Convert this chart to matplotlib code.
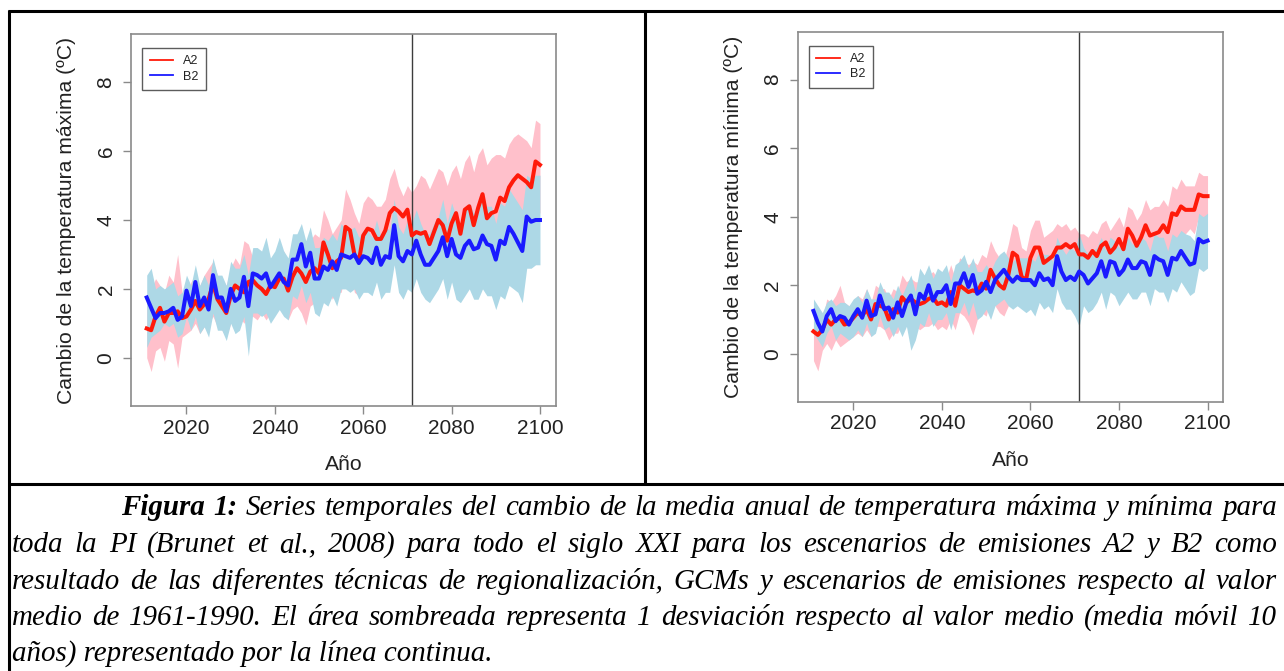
import numpy as np
import matplotlib
matplotlib.use("Agg")
import matplotlib.pyplot as plt
from matplotlib.lines import Line2D

plt.rcParams['font.family'] = ['Liberation Sans', 'DejaVu Sans']

years = np.arange(2011, 2101)

# --- temperatura maxima ---
tmax_a2 = [0.85, 0.80, 1.20, 1.45, 1.05, 1.30, 1.30, 1.35, 1.15, 1.20,
           1.40, 1.65, 1.40, 1.55, 1.70, 2.15, 1.70, 1.50, 1.30, 1.80,
           2.10, 2.00, 1.90, 2.20, 2.25, 2.10, 2.00, 1.85, 2.10, 2.05,
           2.30, 2.30, 1.95, 2.35, 2.60, 2.45, 2.20, 2.50, 2.60, 2.45,
           3.35, 3.00, 2.60, 2.80, 2.90, 3.80, 3.70, 3.00, 2.80, 3.55,
           3.75, 3.70, 3.45, 3.45, 3.70, 4.20, 4.35, 4.25, 4.10, 4.30,
           3.55, 3.65, 3.60, 3.65, 3.30, 3.65, 4.00, 3.85, 3.40, 3.90,
           4.20, 3.60, 4.30, 4.40, 3.85, 4.35, 4.75, 4.05, 4.20, 4.25,
           4.65, 4.55, 4.95, 5.15, 5.30, 5.20, 5.10, 4.95, 5.70, 5.60]
tmax_a2_lo = [0.00, -0.40, 0.20, 0.30, -0.10, 0.50, 0.40, -0.30, 0.60, 0.70,
              0.80, 1.00, 0.70, 0.90, 1.00, 1.20, 0.90, 0.80, 0.60, 1.00,
              1.30, 1.20, 1.00, 1.30, 1.20, 1.10, 1.30, 1.10, 1.30, 1.30,
              1.50, 1.40, 1.10, 1.40, 1.50, 1.30, 0.95, 1.50, 1.60, 1.50,
              2.20, 2.00, 1.70, 1.90, 1.90, 2.50, 2.50, 1.90, 1.80, 2.40,
              2.60, 2.50, 2.30, 2.40, 2.60, 3.00, 3.10, 3.10, 2.90, 3.10,
              2.30, 2.40, 2.20, 2.30, 1.90, 2.30, 2.70, 2.50, 2.10, 2.60,
              2.80, 2.20, 2.90, 3.00, 2.50, 2.90, 3.40, 2.70, 2.80, 2.80,
              3.20, 3.10, 3.50, 3.70, 3.90, 3.80, 3.70, 3.60, 4.30, 4.20]
tmax_a2_hi = [1.50, 2.00, 2.30, 2.10, 1.90, 2.40, 2.20, 3.00, 1.90, 1.80,
              2.20, 2.40, 2.10, 2.40, 2.60, 2.80, 2.40, 2.30, 2.10, 2.60,
              2.90, 2.70, 3.40, 3.30, 2.90, 3.00, 2.80, 2.60, 2.90, 2.80,
              3.00, 3.10, 2.80, 3.20, 3.50, 3.40, 3.10, 3.40, 3.60, 3.50,
              4.30, 4.00, 3.60, 3.80, 4.00, 4.90, 4.60, 4.20, 3.90, 4.50,
              4.70, 4.60, 4.40, 4.40, 4.60, 5.20, 5.50, 5.00, 4.70, 5.00,
              4.80, 5.00, 5.30, 5.20, 4.90, 5.20, 5.50, 5.40, 5.00, 5.40,
              5.60, 5.20, 5.70, 5.90, 5.40, 5.90, 6.10, 5.60, 5.80, 5.90,
              5.90, 5.80, 6.20, 6.40, 6.50, 6.40, 6.30, 6.10, 6.90, 6.80]
tmax_b2 = [1.75, 1.45, 1.15, 1.30, 1.30, 1.35, 1.45, 1.10, 1.20, 1.95,
           1.50, 2.20, 1.50, 1.75, 1.40, 2.40, 1.75, 1.75, 1.35, 2.00,
           1.65, 1.75, 2.35, 1.50, 2.45, 2.40, 2.30, 2.45, 2.05, 2.25,
           2.45, 2.20, 2.10, 2.85, 2.85, 3.30, 2.65, 3.05, 2.30, 2.30,
           2.65, 2.55, 2.80, 2.55, 3.00, 2.95, 2.90, 3.00, 2.75, 2.95,
           2.90, 2.75, 3.20, 2.70, 2.95, 2.90, 3.85, 2.95, 2.80, 3.10,
           3.00, 3.40, 3.00, 2.70, 2.70, 2.90, 3.10, 3.50, 2.95, 3.45,
           3.00, 2.90, 3.25, 3.40, 3.15, 3.20, 3.55, 3.30, 3.25, 2.85,
           3.40, 3.30, 3.80, 3.60, 3.35, 3.10, 4.10, 3.95, 4.00, 4.00]
tmax_b2_lo = [0.30, 0.60, 0.70, 0.80, 1.00, 0.90, 1.00, 0.60, 0.70, 1.20,
              0.80, 1.20, 0.70, 0.90, 0.60, 1.30, 0.80, 0.80, 0.50, 1.00,
              0.70, 0.80, 1.20, 0.05, 1.30, 1.30, 1.20, 1.30, 1.00, 1.20,
              1.40, 1.20, 1.10, 1.80, 1.70, 2.10, 1.60, 1.90, 1.30, 1.20,
              1.60, 1.50, 1.80, 1.50, 2.00, 2.00, 1.90, 2.00, 1.70, 1.90,
              1.90, 1.80, 2.20, 1.70, 1.90, 1.90, 2.70, 1.90, 1.70, 2.00,
              1.90, 2.30, 1.90, 1.70, 1.60, 1.80, 2.00, 2.30, 1.70, 2.20,
              1.70, 1.60, 1.80, 2.00, 1.70, 1.70, 2.00, 1.80, 1.80, 1.40,
              1.80, 1.70, 2.10, 2.00, 1.90, 1.60, 2.60, 2.60, 2.70, 2.70]
tmax_b2_hi = [2.40, 2.60, 2.00, 2.10, 2.00, 2.10, 2.20, 1.80, 1.90, 2.40,
              2.10, 2.70, 2.10, 2.40, 2.10, 2.90, 2.40, 2.40, 2.10, 2.80,
              2.60, 2.60, 3.00, 2.40, 3.20, 3.20, 3.10, 3.50, 2.90, 3.10,
              3.50, 3.10, 2.90, 3.60, 3.60, 3.90, 3.40, 3.80, 3.20, 3.20,
              3.50, 3.40, 3.60, 3.40, 3.90, 3.70, 3.70, 3.80, 3.50, 3.70,
              3.70, 3.50, 4.00, 3.50, 3.80, 3.70, 4.60, 3.80, 3.60, 4.00,
              3.90, 4.30, 3.90, 3.60, 3.60, 3.90, 4.10, 4.60, 3.90, 4.50,
              4.10, 3.90, 4.30, 4.50, 4.20, 4.30, 4.70, 4.40, 4.40, 3.90,
              4.50, 4.40, 4.90, 4.70, 4.50, 4.30, 5.30, 5.20, 5.30, 5.30]

# --- temperatura minima ---
tmin_a2 = [0.65, 0.55, 0.70, 1.00, 0.85, 1.00, 1.05, 0.85, 0.90, 1.05,
           1.20, 1.10, 1.30, 1.00, 1.45, 1.40, 1.35, 1.00, 1.30, 1.20,
           1.65, 1.50, 1.60, 1.50, 1.45, 1.50, 1.60, 1.65, 1.45, 1.50,
           1.40, 1.80, 1.40, 2.00, 1.90, 1.80, 1.85, 1.80, 2.05, 1.90,
           2.45, 2.20, 2.00, 1.90, 2.30, 2.95, 2.85, 2.25, 2.15, 2.80,
           3.10, 3.10, 2.65, 2.75, 2.85, 3.10, 3.10, 3.20, 3.10, 3.20,
           2.90, 2.90, 2.80, 3.00, 2.85, 3.15, 3.25, 2.95, 3.10, 3.35,
           3.05, 3.65, 3.45, 3.15, 3.40, 3.75, 3.45, 3.50, 3.55, 3.75,
           3.55, 4.10, 4.05, 4.30, 4.20, 4.20, 4.20, 4.65, 4.60, 4.60]
tmin_a2_lo = [-0.20, -0.50, 0.10, 0.30, 0.10, 0.40, 0.20, 0.30, 0.40, 0.50,
              0.60, 0.50, 0.70, 0.50, 0.80, 0.80, 0.70, 0.40, 0.60, 0.60,
              0.90, 0.80, 0.90, 0.80, 0.70, 0.80, 0.80, 0.90, 0.70, 0.80,
              0.70, 1.00, 0.70, 1.20, 1.10, 0.90, 0.55, 1.00, 1.20, 1.10,
              1.60, 1.40, 1.20, 1.10, 1.40, 2.10, 2.00, 1.40, 1.30, 1.90,
              2.30, 2.30, 1.90, 2.00, 2.10, 2.40, 2.50, 2.60, 2.50, 2.60,
              2.30, 2.30, 2.20, 2.40, 2.20, 2.50, 2.60, 2.30, 2.40, 2.70,
              2.40, 3.00, 2.70, 2.40, 2.70, 3.00, 2.70, 2.70, 2.80, 3.00,
              2.80, 3.30, 3.30, 3.50, 3.50, 3.65, 3.50, 4.00, 3.90, 4.00]
tmin_a2_hi = [1.50, 1.20, 1.00, 1.60, 1.50, 1.70, 2.00, 1.50, 1.40, 1.50,
              1.70, 1.60, 1.90, 1.50, 2.00, 1.90, 1.90, 1.60, 1.90, 1.80,
              2.30, 2.10, 2.20, 2.10, 2.10, 2.20, 2.30, 2.40, 2.20, 2.30,
              2.20, 2.60, 2.20, 2.80, 2.70, 2.60, 2.70, 2.60, 2.90, 2.80,
              3.30, 3.00, 2.80, 2.70, 3.20, 3.80, 3.70, 3.10, 3.00, 3.60,
              3.90, 3.90, 3.40, 3.50, 3.60, 3.80, 3.70, 3.80, 3.60, 3.70,
              3.50, 3.50, 3.40, 3.60, 3.50, 3.80, 3.90, 3.60, 3.80, 4.00,
              3.70, 4.30, 4.20, 3.90, 4.10, 4.50, 4.20, 4.30, 4.30, 4.50,
              4.30, 4.90, 4.80, 5.10, 4.90, 4.90, 4.90, 5.30, 5.20, 5.20]
tmin_b2 = [1.25, 0.90, 0.65, 1.10, 1.30, 0.95, 1.10, 1.05, 0.85, 1.10,
           1.30, 1.05, 1.55, 1.10, 1.15, 1.70, 1.30, 1.35, 1.05, 1.50,
           1.10, 1.50, 1.70, 1.15, 1.75, 1.60, 2.00, 1.55, 1.80, 1.80,
           2.00, 1.45, 2.05, 2.05, 2.35, 1.95, 2.30, 1.75, 1.85, 2.10,
           1.80, 2.15, 2.30, 2.45, 2.25, 2.10, 2.25, 2.15, 2.15, 2.15,
           2.00, 2.35, 2.15, 2.20, 2.00, 2.85, 2.40, 2.15, 2.25, 2.15,
           2.40, 2.30, 2.05, 2.20, 2.35, 2.70, 2.25, 2.70, 2.65, 2.30,
           2.45, 2.75, 2.50, 2.50, 2.70, 2.65, 2.30, 2.85, 2.75, 2.70,
           2.30, 2.80, 2.75, 3.00, 2.80, 2.60, 2.65, 3.35, 3.25, 3.30]
tmin_b2_lo = [0.60, 0.40, 0.20, 0.60, 0.80, 0.40, 0.60, 0.50, 0.40, 0.50,
              0.70, 0.50, 0.90, 0.50, 0.60, 1.10, 0.70, 0.80, 0.50, 0.80,
              0.50, 0.80, 0.10, 0.40, 0.90, 0.80, 1.20, 0.80, 1.00, 1.00,
              1.20, 0.70, 1.20, 1.20, 1.50, 1.10, 1.50, 1.00, 1.10, 1.30,
              1.00, 1.40, 1.50, 1.60, 1.40, 1.30, 1.40, 1.30, 1.20, 1.30,
              1.10, 1.50, 1.30, 1.40, 1.20, 1.90, 1.50, 1.30, 1.30, 1.10,
              0.80, 1.40, 1.20, 1.30, 1.50, 1.80, 1.30, 1.80, 1.70, 1.40,
              1.60, 1.80, 1.60, 1.60, 1.80, 1.80, 1.40, 1.90, 1.80, 1.80,
              1.50, 1.90, 1.80, 2.10, 1.90, 1.70, 1.80, 2.50, 2.40, 2.50]
tmin_b2_hi = [1.60, 1.40, 1.20, 1.50, 1.60, 1.40, 1.50, 1.50, 1.40, 1.60,
              1.70, 1.50, 1.90, 1.60, 1.60, 2.10, 1.80, 1.80, 1.60, 2.00,
              1.70, 2.00, 2.30, 1.80, 2.50, 2.30, 2.60, 2.20, 2.50, 2.40,
              2.60, 2.10, 2.60, 2.70, 2.90, 2.50, 2.80, 2.40, 2.40, 2.60,
              2.40, 2.70, 2.90, 3.00, 2.80, 2.70, 2.80, 2.80, 2.80, 2.80,
              2.70, 3.00, 2.90, 2.90, 2.70, 3.40, 3.10, 2.90, 3.10, 3.00,
              3.50, 3.10, 2.90, 3.00, 3.10, 3.40, 3.00, 3.40, 3.30, 3.10,
              3.20, 3.40, 3.20, 3.20, 3.40, 3.30, 3.00, 3.50, 3.40, 3.40,
              3.00, 3.50, 3.40, 3.60, 3.50, 3.45, 3.30, 4.10, 4.00, 4.10]

xticks = [2020, 2040, 2060, 2080, 2100]
yticks = [0, 2, 4, 6, 8]
scenarios = ['A2', 'B2']
period_start = 2071

caption_lines = [
    "Series temporales del cambio de la media anual de temperatura máxima y mínima para",
    "toda la PI (Brunet et al., 2008) para todo el siglo XXI para los escenarios de emisiones A2 y B2 como",
    "resultado de las diferentes técnicas de regionalización, GCMs y escenarios de emisiones respecto al valor",
    "medio de 1961-1990. El área sombreada representa 1 desviación respecto al valor medio (media móvil 10",
    "años) representado por la línea continua.",
]

RED = '#ff1a0a'
BLUE = '#1a1aff'
FRAME = '#8a8a8a'
INK = '#222222'

W, H = 1284, 671
fig = plt.figure(figsize=(W / 100, H / 100), dpi=100)


def fx(px):
    return px / W


def fy(py):
    return 1 - py / H


def panel(left, top, right, bottom, a2, a2_lo, a2_hi, b2, b2_lo, b2_hi, ylabel):
    ax = fig.add_axes([fx(left), fy(bottom), fx(right - left), (bottom - top) / H])
    ax.fill_between(years, a2_lo, a2_hi, color='pink', lw=0)
    ax.fill_between(years, b2_lo, b2_hi, color='lightblue', lw=0)
    ax.axvline(period_start, color='#3c3c3c', lw=1.0)
    ax.plot(years, a2, color=RED, lw=2.9, solid_joinstyle='round')
    ax.plot(years, b2, color=BLUE, lw=2.9, solid_joinstyle='round')

    ax.set_xlim(2007.44, 2103.56)
    ax.set_ylim(-1.4, 9.4)
    ax.set_xticks(xticks)
    ax.set_yticks(yticks)
    for s in ax.spines.values():
        s.set_color(FRAME)
        s.set_linewidth(1.2)
    ax.tick_params(direction='out', length=5.8, width=1.0, color=FRAME,
                   labelsize=15, labelcolor=INK)
    ax.tick_params(axis='x', pad=3.4)
    ax.tick_params(axis='y', pad=5.3, labelrotation=90)
    plt.setp(ax.get_yticklabels(), va='center')

    w = right - left
    h = bottom - top
    ax.set_ylabel(ylabel, fontsize=15.2, color=INK, ha='center', va='center')
    ax.yaxis.set_label_coords(-64 / w, 0.5)
    ax.set_xlabel('Año', fontsize=15.2, color=INK, ha='center', va='center')
    ax.xaxis.set_label_coords(0.5, -59 / h)

    handles = [Line2D([], [], color=RED, lw=1.3), Line2D([], [], color=BLUE, lw=1.3)]
    leg = ax.legend(handles, scenarios, loc='upper left',
                    bbox_to_anchor=(11 / w, 1 - 14 / h), borderaxespad=0,
                    fontsize=9, frameon=True, fancybox=False,
                    borderpad=0.6, handlelength=1.9, handletextpad=0.8,
                    labelspacing=0.25)
    leg.get_frame().set_edgecolor('#333333')
    leg.get_frame().set_linewidth(1.0)
    for t in leg.get_texts():
        t.set_color(INK)
    return ax


panel(131, 34, 555.7, 406, tmax_a2, tmax_a2_lo, tmax_a2_hi,
      tmax_b2, tmax_b2_lo, tmax_b2_hi, 'Cambio de la temperatura máxima (ºC)')
panel(797.7, 31.7, 1223.3, 401.7, tmin_a2, tmin_a2_lo, tmin_a2_hi,
      tmin_b2, tmin_b2_lo, tmin_b2_hi, 'Cambio de la temperatura mínima (ºC)')

# table borders
border = dict(color='black', lw=2.2, solid_capstyle='butt')
fig.add_artist(Line2D([fx(8), fx(W)], [fy(11), fy(11)], **border))
fig.add_artist(Line2D([fx(9), fx(9)], [fy(10), fy(H)], **border))
fig.add_artist(Line2D([fx(645), fx(645)], [fy(10), fy(485)], **border))
fig.add_artist(Line2D([fx(8), fx(W)], [fy(484), fy(484)], **border))

# caption, justified line by line
renderer = fig.canvas.get_renderer()
baselines = [515, 552, 589, 625, 661]
x_left, x_right, indent = 12, 1277, 121
bold = {'weight': 'bold'}


def cap_kw(size, extra=None):
    kw = dict(family='Liberation Serif', style='italic', size=size,
              color='black', va='baseline', ha='left')
    if extra:
        kw.update(extra)
    return kw


def line_words(i):
    words = [(w, {}) for w in caption_lines[i].split(' ')]
    if i == 0:
        words = [('Figura', bold), ('1:', bold)] + words
    return words


def text_width(s, kw):
    t = fig.text(0, 0, s, **kw)
    wd = t.get_window_extent(renderer).width
    t.remove()
    return wd


# font size: the tightest justified line gets ordinary word spacing
probe = 20
space = text_width('a a', cap_kw(probe)) - text_width('aa', cap_kw(probe))
ratios = []
for i in range(len(caption_lines) - 1):
    words = line_words(i)
    natural = sum(text_width(w, cap_kw(probe, e)) for w, e in words) + space * (len(words) - 1)
    avail = x_right - (indent if i == 0 else x_left)
    ratios.append(avail / natural)
cap_size = probe * min(ratios) * 0.99


def place_justified(words, x0, x1, y):
    texts = [fig.text(fx(x0), fy(y), w, **cap_kw(cap_size, e)) for w, e in words]
    widths = [t.get_window_extent(renderer).width for t in texts]
    gap = (x1 - x0 - sum(widths)) / (len(texts) - 1)
    x = x0
    for t, wd in zip(texts, widths):
        t.set_x(fx(x))
        x += wd + gap


for i, line in enumerate(caption_lines):
    if i == 0:
        place_justified(line_words(i), indent, x_right, baselines[i])
    elif i < len(caption_lines) - 1:
        place_justified(line_words(i), x_left, x_right, baselines[i])
    else:
        fig.text(fx(x_left), fy(baselines[i]), line, **cap_kw(cap_size))

fig.savefig('out.png', dpi=100)
